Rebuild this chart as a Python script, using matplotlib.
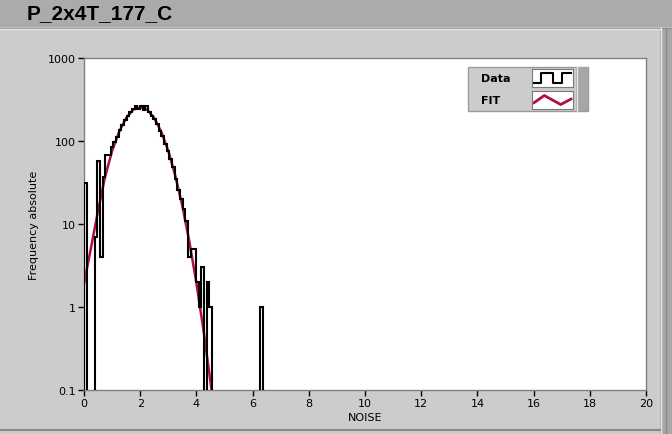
import numpy as np
import matplotlib
matplotlib.use("Agg")
import matplotlib.pyplot as plt
from matplotlib.patches import Rectangle
from matplotlib.lines import Line2D

# ---------------- data ----------------
title = "P_2x4T_177_C"
x_label = "NOISE"
y_label = "Frequency absolute"
x_ticks = [0, 2, 4, 6, 8, 10, 12, 14, 16, 18, 20]
y_ticks = [0.1, 1, 10, 100, 1000]
y_tick_labels = ["0.1", "1", "10", "100", "1000"]

bin_start = 0.0
bin_width = 0.095
data_counts = [31, 0, 0, 0, 7, 57, 4, 37, 68, 68,
               85, 98, 112, 135, 158, 178, 200, 222, 245, 262,
               240, 262, 238, 262, 225, 200, 185, 160, 132, 115,
               92, 75, 60, 48, 35, 26, 20, 15, 11, 4,
               5, 5, 2, 1, 3, 0, 2, 1, 0, 0,
               0, 0, 0, 0, 0, 0, 0, 0, 0, 0,
               0, 0, 0, 0, 0, 0, 1]

fit_x = [0, 0.25, 0.5, 0.75, 1.0, 1.25, 1.5, 1.75, 2.0, 2.25, 2.5, 2.75,
         3.0, 3.25, 3.5, 3.75, 4.0, 4.25, 4.5, 4.6]
fit_y = [1.9, 5.2, 14.5, 37, 76, 129, 189, 238, 257, 238, 189, 129,
         76, 38, 16.5, 6.1, 1.95, 0.53, 0.126, 0.067]

legend_labels = ["Data", "FIT"]

# ---------------- style ----------------
W, H = 672, 435
FIT_COLOR = "#B01040"
PANEL = "#CCCCCC"
BAND = "#ABABAB"
plt.rcParams['font.family'] = ['DejaVu Sans']


def fx(px):
    return px / W


def fy(py):
    return 1 - py / H


fig = plt.figure(figsize=(W / 100, H / 100), dpi=100)
fig.patch.set_facecolor(PANEL)

# title band and panel borders
fig.patches.append(Rectangle((0, fy(28)), 1, 28 / H, transform=fig.transFigure,
                             facecolor=BAND, edgecolor='none', zorder=0))
fig.add_artist(Line2D([0, 1], [fy(28.5), fy(28.5)], transform=fig.transFigure,
                      color="#909090", lw=1))
fig.add_artist(Line2D([0, fx(660)], [fy(29.5), fy(29.5)], transform=fig.transFigure,
                      color="#E6E6E6", lw=1))
fig.patches.append(Rectangle((fx(660), 0), 12 / W, fy(29), transform=fig.transFigure,
                             facecolor="#A8A8A8", edgecolor='none', zorder=0))
fig.add_artist(Line2D([fx(660.5), fx(660.5)], [0, fy(29)], transform=fig.transFigure,
                      color="#E8E8E8", lw=1))
fig.add_artist(Line2D([fx(666), fx(666)], [0, fy(29)], transform=fig.transFigure,
                      color="#8A8A8A", lw=1))
fig.add_artist(Line2D([0, fx(660)], [fy(431), fy(431)], transform=fig.transFigure,
                      color="#8A8A8A", lw=1.5))
fig.text(fx(27), fy(14), title, fontsize=15, fontweight='bold',
         family=['Liberation Sans'], va='center', ha='left', color='black')

# plot axes
L, R, T, B = 84, 646, 59, 391
ax = fig.add_axes([fx(L), fy(B), (R - L) / W, (B - T) / H])
ax.set_facecolor('white')
ax.set_yscale('log')
ax.set_xlim(0, 20)
ax.set_ylim(0.1, 1000)

edges = bin_start + bin_width * np.arange(len(data_counts) + 1)
ax.plot(fit_x, fit_y, color=FIT_COLOR, lw=1.8, zorder=2)
ax.stairs(data_counts, edges, color='black', lw=1.5, baseline=0, zorder=3)

ax.set_xticks(x_ticks)
ax.set_xticklabels([str(t) for t in x_ticks])
ax.set_yticks(y_ticks)
ax.set_yticklabels(y_tick_labels)
ax.yaxis.set_minor_locator(matplotlib.ticker.NullLocator())
ax.tick_params(axis='both', which='major', direction='out', length=4, width=1,
               labelsize=8, colors='black', pad=2)
for sp in ax.spines.values():
    sp.set_color('#808080')
    sp.set_linewidth(1)

ax.set_xlabel(x_label, fontsize=8, labelpad=3)
ax.set_ylabel(y_label, fontsize=8, labelpad=6)

# legend panel (LabVIEW style)
fig.patches.append(Rectangle((fx(468), fy(112)), 120 / W, 44 / H, transform=fig.transFigure,
                             facecolor=PANEL, edgecolor='#9A9A9A', lw=1, zorder=5))
fig.patches.append(Rectangle((fx(576), fy(112)), 12 / W, 44 / H, transform=fig.transFigure,
                             facecolor='#A6A6A6', edgecolor='none', zorder=6))
fig.add_artist(Line2D([fx(576.5), fx(576.5)], [fy(112), fy(68)], transform=fig.transFigure,
                      color="#E8E8E8", lw=1, zorder=7))
for i, lab in enumerate(legend_labels):
    ycen = 79 + 22 * i
    fig.text(fx(481), fy(ycen), lab, fontsize=8, fontweight='bold', va='center',
             ha='left', zorder=8)
    sw = fig.add_axes([fx(532), fy(ycen + 9), 41 / W, 18 / H], zorder=9)
    sw.set_facecolor('white')
    sw.set_xlim(0, 1)
    sw.set_ylim(0, 1)
    sw.set_xticks([])
    sw.set_yticks([])
    for sp in sw.spines.values():
        sp.set_color('#7A7A7A')
    if i == 0:
        sw.plot([0.05, 0.22, 0.22, 0.52, 0.52, 0.72, 0.72, 0.95],
                [0.2, 0.2, 0.8, 0.8, 0.2, 0.2, 0.8, 0.8], color='black', lw=1.5)
    else:
        sw.plot([0.05, 0.3, 0.7, 0.95], [0.35, 0.75, 0.25, 0.55],
                color=FIT_COLOR, lw=2)

fig.savefig("out.png", dpi=100, facecolor=fig.get_facecolor())
